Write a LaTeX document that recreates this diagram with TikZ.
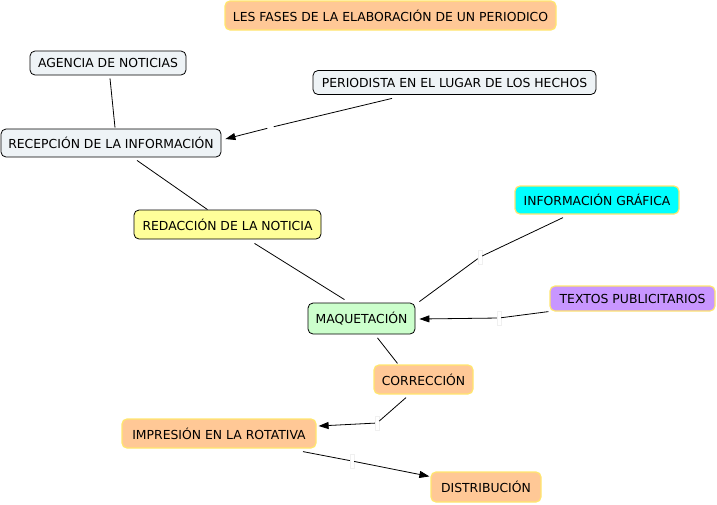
\documentclass[tikz,border=0pt]{standalone}
\usepackage{fontspec}
\setmainfont{DejaVu Sans}
\usetikzlibrary{arrows.meta}
\definecolor{cgray}{RGB}{238,243,246}
\definecolor{cyel}{RGB}{255,255,153}
\definecolor{ccyan}{RGB}{0,255,255}
\definecolor{cpurp}{RGB}{200,150,255}
\definecolor{cgreen}{RGB}{204,255,204}
\definecolor{corange}{RGB}{255,200,150}
\definecolor{cyborder}{RGB}{255,230,110}
\tikzset{
  concept/.style={rounded corners=5pt, inner sep=0pt, align=center, font=\fontsize{12.4}{14}\selectfont, line width=0.8pt},
  dark/.style={concept, draw=black},
  light/.style={concept, draw=cyborder, line width=1.2pt},
  lbl/.style={inner sep=0pt, minimum width=4pt, minimum height=14pt, draw=black!6, fill=white},
  lblh/.style={inner sep=0pt, minimum width=6pt, minimum height=6pt},
  link/.style={line width=0.8pt},
  arr/.style={link, -{Triangle[length=10pt,width=7pt]}},
}
\begin{document}
\begin{tikzpicture}[x=1pt,y=-1pt]
\useasboundingbox (0,0) rectangle (717,504);
\node[light, fill=corange, minimum width=331pt, minimum height=29pt] (title) at (390.5,15.5) {LES FASES DE LA ELABORACIÓN DE UN PERIODICO};
\node[dark, fill=cgray, minimum width=156pt, minimum height=24pt] (agen) at (108,63) {AGENCIA DE NOTICIAS};
\node[dark, fill=cgray, minimum width=283pt, minimum height=24pt] (peri) at (454.5,82.5) {PERIODISTA EN EL LUGAR DE LOS HECHOS};
\node[dark, fill=cgray, minimum width=220pt, minimum height=28pt] (reco) at (111,143) {RECEPCIÓN DE LA INFORMACIÓN};
\node[dark, fill=cyel, minimum width=187pt, minimum height=29pt] (reda) at (227.5,224.5) {REDACCIÓN DE LA NOTICIA};
\node[light, fill=ccyan, minimum width=164pt, minimum height=28pt] (info) at (597,200) {INFORMACIÓN GRÁFICA};
\node[light, fill=cpurp, minimum width=165pt, minimum height=25pt] (text) at (632.5,298.5) {TEXTOS PUBLICITARIOS};
\node[dark, fill=cgreen, minimum width=107pt, minimum height=31pt] (maqu) at (361.5,318.5) {MAQUETACIÓN};
\node[light, fill=corange, minimum width=99pt, minimum height=29pt] (corr) at (423.5,379.5) {CORRECCIÓN};
\node[light, fill=corange, minimum width=194pt, minimum height=29pt] (impr) at (219,433.5) {IMPRESIÓN EN LA ROTATIVA};
\node[light, fill=corange, minimum width=110pt, minimum height=30pt] (dist) at (486,487) {DISTRIBUCIÓN};
% link label points
\node[lblh] (l2) at (270.5,127.5) {};
\node[lbl] (l5) at (480,257) {};
\node[lbl] (l6) at (499,318) {};
\node[lbl] (l8) at (377,423) {};
\node[lbl] (l9) at (352,461) {};
% connectors
\draw[link] ([xshift=2pt,yshift=-3pt]agen.south) -- ([xshift=4pt,yshift=1pt]reco.north);
\draw[link] ([xshift=-62.5pt,yshift=-3.5pt]peri.south) -- (l2);
\draw[arr] (l2) -- ([xshift=4pt,yshift=4pt]reco.east);
\draw[link] ([xshift=26pt,yshift=-3pt]reco.south) -- ([xshift=-20pt,yshift=0pt]reda.north);
\draw[link] ([xshift=27pt,yshift=-4pt]reda.south) -- ([xshift=-17pt,yshift=3pt]maqu.north);
\draw[link] ([xshift=-34pt,yshift=-3pt]info.south) -- (l5);
\draw[link] (l5) -- ([xshift=4pt,yshift=1pt]maqu.north east);
\draw[link] ([xshift=-1pt,yshift=0pt]text.south west) -- (l6);
\draw[arr] (l6) -- ([xshift=4pt,yshift=-0.5pt]maqu.east);
\draw[link] ([xshift=16pt,yshift=-3.5pt]maqu.south) -- ([xshift=-26pt,yshift=1pt]corr.north);
\draw[link] ([xshift=-17.5pt,yshift=-3pt]corr.south) -- (l8);
\draw[arr] (l8) -- ([xshift=2pt,yshift=7.5pt]impr.east);
\draw[link] ([xshift=84pt,yshift=-3pt]impr.south) -- (l9);
\draw[arr] (l9) -- ([xshift=-1pt,yshift=-5pt]dist.north west);
\end{tikzpicture}
\end{document}
